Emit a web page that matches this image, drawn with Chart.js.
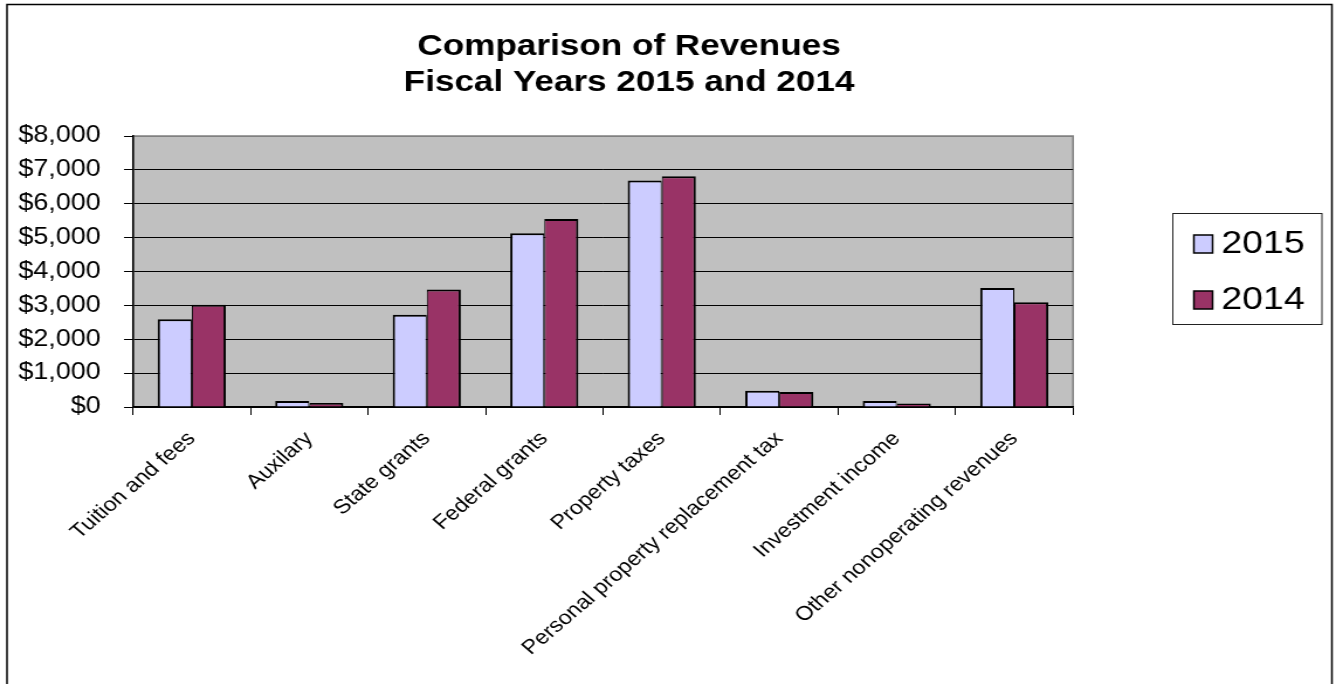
<!DOCTYPE html>
<html>
<head>
<meta charset="utf-8">
<title>Comparison of Revenues</title>
<script src="https://cdn.jsdelivr.net/npm/chart.js@4.4.0/dist/chart.umd.min.js"></script>
<style>
  html, body { margin: 0; padding: 0; background: #fff; overflow: hidden; }
  /* the original picture is stretched sideways, so the canvas is drawn narrow and widened by css */
  #revChart { display: block; width: 1336px !important; height: 684px !important; }
</style>
</head>
<body>
<canvas id="revChart" width="1142" height="684" style="width:1336px;height:684px"></canvas>
<script>
'use strict';

// values
const categories = ['Tuition and fees', 'Auxilary', 'State grants', 'Federal grants', 'Property taxes',
  'Personal property replacement tax', 'Investment income', 'Other nonoperating revenues'];
const rev2015 = [2590, 180, 2720, 5130, 6690, 480, 180, 3510];
const rev2014 = [3020, 120, 3470, 5550, 6810, 440, 100, 3090];
const seriesNames = ['2015', '2014'];
const titleLines = ['Comparison of Revenues', 'Fiscal Years 2015 and 2014'];
const yMax = 8000;
const yStep = 1000;

const FONT = '"Liberation Sans", Arial, sans-serif';
Chart.defaults.font.family = FONT;
Chart.defaults.color = '#000';

const plotBg = {
  id: 'plotBg',
  beforeDraw: function(chart){
    const ctx = chart.ctx, a = chart.chartArea;
    ctx.save();
    ctx.fillStyle = '#fff';
    ctx.fillRect(0, 0, chart.width, chart.height);
    ctx.fillStyle = '#c0c0c0';
    ctx.fillRect(a.left, a.top, a.right - a.left, a.bottom - a.top);
    ctx.strokeStyle = '#808080';
    ctx.lineWidth = 1.5;
    ctx.strokeRect(a.left, a.top, a.right - a.left, a.bottom - a.top);
    ctx.restore();
  }
};

// title, legend box and outer frame
const decor = {
  id: 'decor',
  afterDraw: function(chart){
    const ctx = chart.ctx;
    ctx.save();
    ctx.strokeStyle = '#000';
    ctx.lineWidth = 1.5;
    ctx.strokeRect(6, 4.5, 1132.5, 700);

    ctx.fillStyle = '#000';
    ctx.font = 'bold 30px ' + FONT;
    ctx.textAlign = 'center';
    ctx.textBaseline = 'alphabetic';
    titleLines.forEach(function(t, i){ ctx.fillText(t, 537.7, 55 + i * 35.5); });

    ctx.strokeStyle = '#222';
    ctx.lineWidth = 1;
    ctx.strokeRect(1002.5, 213.5, 127.5, 111);
    ctx.font = '32px ' + FONT;
    ctx.textAlign = 'left';
    chart.data.datasets.forEach(function(ds, i){
      const top = 235 + i * 56;
      ctx.fillStyle = ds.backgroundColor;
      ctx.fillRect(1020.5, top, 16, 18);
      ctx.strokeStyle = '#000';
      ctx.lineWidth = 1.5;
      ctx.strokeRect(1020.5, top, 16, 18);
      ctx.fillStyle = '#000';
      ctx.fillText(ds.label, 1044, top + 18);
    });
    ctx.restore();
  }
};

new Chart(document.getElementById('revChart'), {
  type: 'bar',
  data: {
    labels: categories,
    datasets: [
      {
        label: seriesNames[0],
        data: rev2015,
        backgroundColor: '#ccccff',
        borderColor: '#000',
        borderWidth: {top: 2, left: 2, right: 1, bottom: 2}
      },
      {
        label: seriesNames[1],
        data: rev2014,
        backgroundColor: '#993366',
        borderColor: '#000',
        borderWidth: {top: 2, left: 1, right: 2, bottom: 2}
      }
    ]
  },
  options: {
    responsive: false,
    animation: false,
    devicePixelRatio: 1,
    categoryPercentage: 0.58,
    barPercentage: 1.0,
    layout: { padding: { left: 0, right: 224.8, top: 136, bottom: 0 } },
    plugins: {
      legend: { display: false },
      title: { display: false },
      tooltip: { enabled: false }
    },
    scales: {
      x: {
        grid: { offset: true, drawOnChartArea: false, drawTicks: true, tickLength: 8, color: '#000', lineWidth: 1 },
        border: { color: '#000', width: 1.5 },
        ticks: { autoSkip: false, minRotation: 45, maxRotation: 45, padding: 12, font: { size: 20 }, color: '#000' },
        afterFit: function(s){ s.height = 277; }
      },
      y: {
        min: 0,
        max: yMax,
        grid: {
          color: function(c){ return c.tick && c.tick.value === yMax ? '#808080' : '#000'; },
          tickColor: '#000',
          tickLength: 7.7,
          lineWidth: 1
        },
        border: { color: '#000', width: 1.5 },
        ticks: {
          stepSize: yStep,
          padding: 20,
          font: { size: 23 },
          color: '#000',
          callback: function(v){ return '$' + v.toLocaleString('en-US'); }
        },
        afterFit: function(s){ s.width = 113.7; }
      }
    }
  },
  plugins: [plotBg, decor]
});
</script>
</body>
</html>
